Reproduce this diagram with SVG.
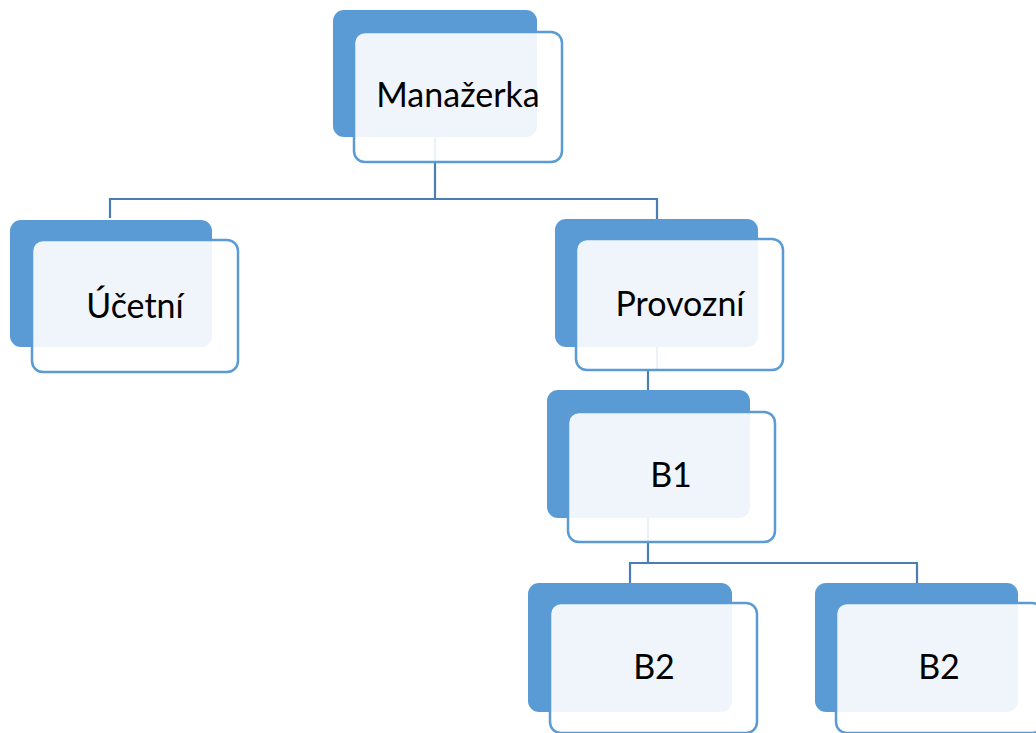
<svg xmlns="http://www.w3.org/2000/svg" width="1036" height="733" viewBox="0 0 1036 733">
<style>
.back{fill:#5B9BD5}
.front{fill:#FFFFFF;fill-opacity:0.9;stroke:#5B9BD5;stroke-width:2.5}
.lbl{font-family:Lato,"Open Sans",sans-serif;font-size:34px;fill:#000;text-anchor:middle}
.conn{fill:none;stroke:#4A7DB3;stroke-width:2.2}
</style>
<rect width="1036" height="733" fill="#FFFFFF"/>
<g id="connectors">
<path class="conn" d="M435,137 V199 M110,218 V199 H657 V219"/>
<path class="conn" d="M657,347 V370 H648 V390"/>
<path class="conn" d="M648,518 V563 M630,583 V563 H917 V583"/>
</g>
<g id="n-manazerka">
<rect class="back" x="333" y="10" width="204" height="127" rx="11"/>
<rect class="front" x="354" y="32" width="208" height="130" rx="11"/>
<text class="lbl" x="458" y="107">Manažerka</text>
</g>
<g id="n-ucetni">
<rect class="back" x="10" y="220" width="202" height="127" rx="11"/>
<rect class="front" x="32" y="240" width="206" height="132" rx="11"/>
<text class="lbl" x="135" y="318">Účetní</text>
</g>
<g id="n-provozni">
<rect class="back" x="555" y="219" width="203" height="128" rx="11"/>
<rect class="front" x="576" y="239" width="207" height="131" rx="11"/>
<text class="lbl" x="680" y="316">Provozní</text>
</g>
<g id="n-b1">
<rect class="back" x="547" y="390" width="203" height="128" rx="11"/>
<rect class="front" x="568" y="412" width="207" height="130" rx="11"/>
<text class="lbl" x="671" y="487">B1</text>
</g>
<g id="n-b2a">
<rect class="back" x="528" y="583" width="204" height="129" rx="11"/>
<rect class="front" x="550" y="603" width="207" height="130" rx="11"/>
<text class="lbl" x="654" y="679">B2</text>
</g>
<g id="n-b2b">
<rect class="back" x="815" y="583" width="203" height="129" rx="11"/>
<rect class="front" x="836" y="603" width="207" height="130" rx="11"/>
<text class="lbl" x="939" y="679">B2</text>
</g>
</svg>
